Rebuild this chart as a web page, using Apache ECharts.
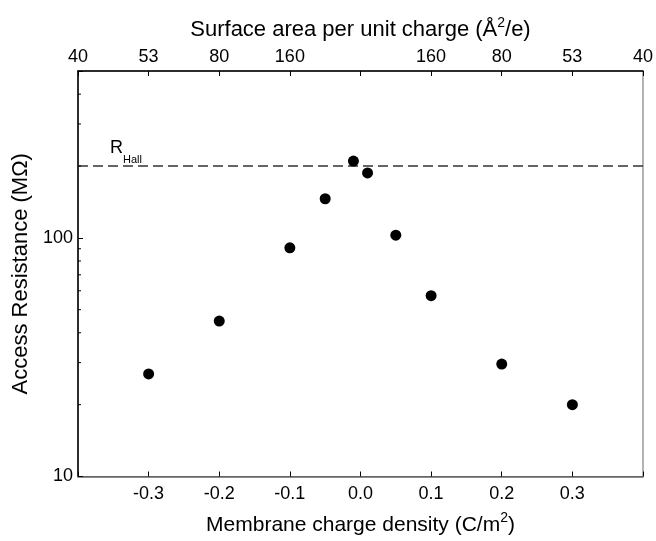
<!DOCTYPE html>
<html><head><meta charset="utf-8">
<script src="https://cdn.jsdelivr.net/npm/echarts@6/dist/echarts.min.js"></script>
<style>html,body{margin:0;padding:0;background:#fff}#c{width:656px;height:541px}</style>
</head><body><div id="c"></div>
<script>
const chargeDensity = [-0.3, -0.2, -0.1, -0.05, -0.01, 0.01, 0.05, 0.1, 0.2, 0.3];
const accessResistance = [26.9, 44.8, 90.8, 145.8, 209.8, 187, 102.6, 57.2, 29.6, 20.0];
const rHall = 200;
const bottomTickLabels = ['', '-0.3', '-0.2', '-0.1', '0.0', '0.1', '0.2', '0.3', ''];
const topTickLabels = ['40', '53', '80', '160', '', '160', '80', '53', '40'];
const yTickLabels = ['10', '100'];
const yMinorTicks = [20, 30, 40, 50, 60, 70, 80, 90, 200, 300, 400];

const FONT = "'Liberation Sans', Arial, sans-serif";
const xMin = -0.4, xMax = 0.4;
const idx = v => Math.round((v - xMin) * 10);

const chart = echarts.init(document.getElementById('c'));
chart.setOption({
  backgroundColor: '#fff',
  animation: false,
  textStyle: { fontFamily: FONT, color: '#000' },
  grid: { left: 78, right: 10, top: 71, bottom: 59, show: true, borderColor: '#666', borderWidth: 1 },
  xAxis: [{
    type: 'value', position: 'bottom', min: xMin, max: xMax, interval: 0.1,
    axisLine: { onZero: false, lineStyle: { color: '#666', width: 1.5 } },
    axisTick: { inside: true, length: 5, lineStyle: { color: '#000' } },
    splitLine: { show: false },
    axisLabel: { fontSize: 18, color: '#000', fontFamily: FONT, margin: 9, formatter: v => bottomTickLabels[idx(v)] },
    name: '{a|Membrane charge density (C/m}{sup|2}{a|)}',
    nameLocation: 'middle', nameGap: 35,
    nameTextStyle: { rich: {
      a: { fontSize: 21, fontFamily: FONT, color: '#000', lineHeight: 28 },
      sup: { fontSize: 14, fontFamily: FONT, color: '#000', verticalAlign: 'top', lineHeight: 28, padding: [0, 0, 10, 0] }
    } }
  }, {
    type: 'value', position: 'top', min: xMin, max: xMax, interval: 0.1,
    axisLine: { onZero: false, lineStyle: { color: '#000', width: 1.5 } },
    axisTick: { inside: true, length: 5, lineStyle: { color: '#000' } },
    splitLine: { show: false },
    axisLabel: { fontSize: 18, color: '#000', fontFamily: FONT, margin: 5, formatter: v => topTickLabels[idx(v)] },
    name: '{a|Surface area per unit charge (Å}{sup|2}{a|/e)}',
    nameLocation: 'middle', nameGap: 27,
    nameTextStyle: { rich: {
      a: { fontSize: 22, fontFamily: FONT, color: '#000', lineHeight: 28 },
      sup: { fontSize: 14, fontFamily: FONT, color: '#000', verticalAlign: 'top', lineHeight: 28, padding: [0, 0, 10, 0] }
    } }
  }],
  yAxis: [{
    type: 'log', logBase: 10, min: 10, max: 500, position: 'left',
    axisLine: { show: true, onZero: false, lineStyle: { color: '#000', width: 1.5 } },
    axisTick: { inside: true, length: 5, lineStyle: { color: '#000' } },
    splitLine: { show: false },
    minorTick: { show: false },
    axisLabel: { fontSize: 18, color: '#000', fontFamily: FONT, margin: 5,
      formatter: v => { const s = String(Math.round(v)); return yTickLabels.indexOf(s) >= 0 ? s : ''; } },
    name: 'Access Resistance (MΩ)', nameLocation: 'middle', nameGap: 45,
    nameTextStyle: { fontSize: 22, fontFamily: FONT, color: '#000' }
  }],
  series: [{
    type: 'scatter', xAxisIndex: 0, yAxisIndex: 0,
    data: chargeDensity.map((x, i) => [x, accessResistance[i]]),
    symbol: 'circle', symbolSize: 11,
    itemStyle: { color: '#000', opacity: 1 },
    z: 10,
    markLine: {
      silent: true, symbol: ['none', 'none'],
      lineStyle: { type: [10, 5], color: '#333', width: 1.5, opacity: 1 },
      label: {
        show: true, position: 'insideStartTop',
        formatter: '{r|R}{s|Hall}',
        padding: [0, 0, 2, 27],
        rich: {
          r: { fontSize: 18, fontFamily: FONT, color: '#000', lineHeight: 22 },
          s: { fontSize: 11, fontFamily: FONT, color: '#000', verticalAlign: 'bottom', lineHeight: 22, padding: [0, 0, -6, 0] }
        }
      },
      data: [{ yAxis: rHall }]
    }
  }, {
    type: 'custom', xAxisIndex: 0, yAxisIndex: 0, silent: true, z: 5,
    data: yMinorTicks.map(v => [xMin, v]),
    encode: { x: 0, y: 1 },
    renderItem: (params, api) => {
      const p = api.coord([api.value(0), api.value(1)]);
      return { type: 'line', shape: { x1: p[0], y1: p[1], x2: p[0] + 3, y2: p[1] }, style: { stroke: '#000', lineWidth: 1 } };
    }
  }]
});
</script>
</body></html>
